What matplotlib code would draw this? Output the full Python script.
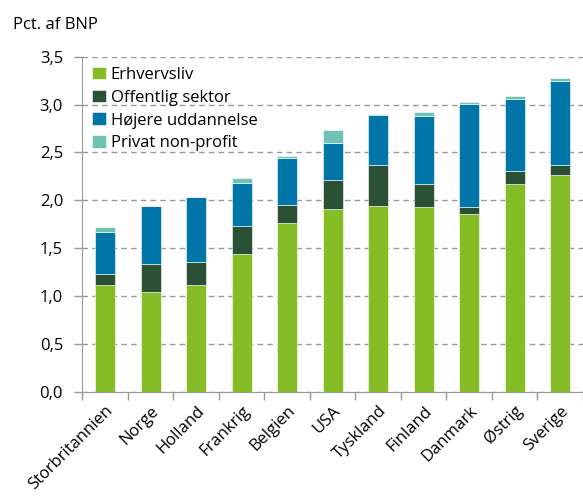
import numpy as np
import matplotlib.pyplot as plt

plt.rcParams['font.family'] = ['Open Sans', 'DejaVu Sans']

countries = ['Storbritannien', 'Norge', 'Holland', 'Frankrig', 'Belgien', 'USA',
             'Tyskland', 'Finland', 'Danmark', 'Østrig', 'Sverige']
erhvervsliv = [1.11, 1.04, 1.11, 1.44, 1.76, 1.91, 1.94, 1.93, 1.86, 2.17, 2.26]
offentlig = [0.12, 0.29, 0.25, 0.29, 0.19, 0.30, 0.43, 0.24, 0.07, 0.14, 0.11]
hoejere = [0.44, 0.61, 0.67, 0.45, 0.49, 0.39, 0.52, 0.71, 1.08, 0.75, 0.88]
privat = [0.05, 0.0, 0.0, 0.05, 0.02, 0.13, 0.01, 0.04, 0.02, 0.03, 0.03]

series = [
    ('Erhvervsliv', erhvervsliv, '#86bc25'),
    ('Offentlig sektor', offentlig, '#2b5134'),
    ('Højere uddannelse', hoejere, '#0076a8'),
    ('Privat non-profit', privat, '#6fc2b4'),
]

fig = plt.figure(figsize=(5.83, 5.04), dpi=100)
ax = fig.add_axes([0.1415, 0.2228, 0.8585, 0.6647])

x = np.arange(len(countries))
bottom = np.zeros(len(countries))
for name, vals, color in series:
    ax.bar(x, vals, 0.43, bottom=bottom, color=color, label=name,
           edgecolor='white', linewidth=0.4, zorder=3)
    bottom += np.array(vals)

ax.set_ylim(0, 3.5)
ax.set_xlim(-0.5, 10.38)
yt = np.arange(0, 3.51, 0.5)
ax.set_yticks(yt)
ax.set_yticklabels([f'{v:.1f}'.replace('.', ',') for v in yt], fontsize=12)
ax.yaxis.grid(True, linestyle=(0, (4, 3)), color='#999999', linewidth=1, zorder=0)

ax.set_xticks(x)
ax.set_xticklabels(countries, rotation=45, ha='right', rotation_mode='anchor', fontsize=12)
ax.set_xticks(np.arange(-0.5, 10.6, 1), minor=True)
ax.tick_params(axis='x', which='major', length=0, pad=8)
ax.tick_params(axis='x', which='minor', length=6, color='#999999', width=1)
ax.tick_params(axis='y', length=6, color='#999999', width=1, pad=8)

for s in ['top', 'right']:
    ax.spines[s].set_visible(False)
for s in ['left', 'bottom']:
    ax.spines[s].set_color('#999999')

fig.text(0.022, 0.950, 'Pct. af BNP', fontsize=12, va='center')

ax.legend(loc='upper left', frameon=False, fontsize=12, handlelength=0.8,
          handleheight=0.8, handletextpad=0.3, labelspacing=0.4,
          borderaxespad=0.2, bbox_to_anchor=(0.0, 1.0))

fig.savefig('out.png', dpi=100)
